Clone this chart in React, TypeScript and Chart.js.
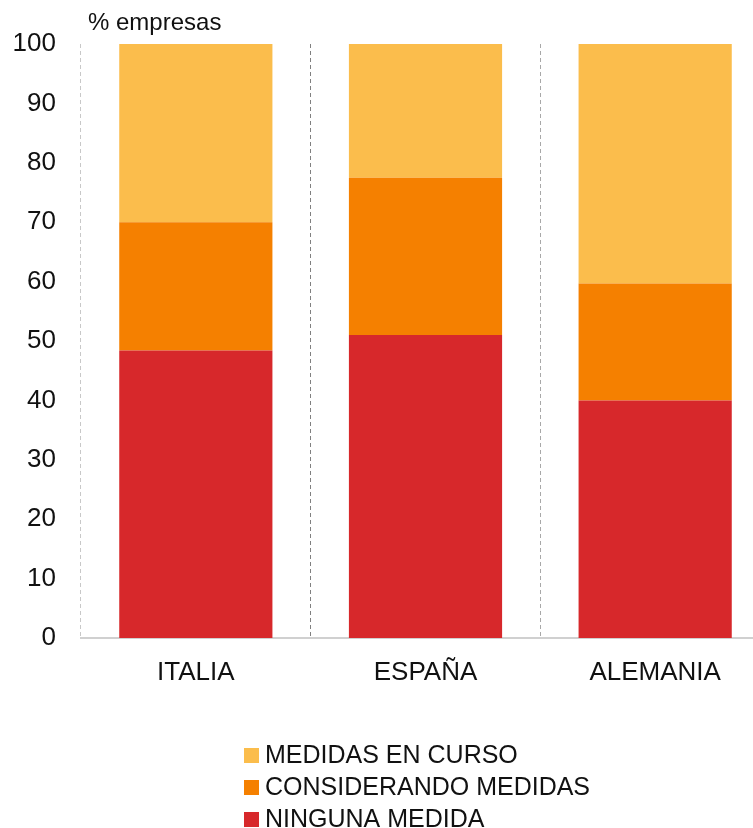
import React, { useEffect, useRef } from "react";
import { Chart, registerables } from "chart.js";

Chart.register(...registerables);

const categories = ["ITALIA", "ESPAÑA", "ALEMANIA"];
const ningunaMedida = [48.4, 51.0, 40.0];
const considerandoMedidas = [21.6, 26.5, 19.7];
const medidasEnCurso = [30.0, 22.5, 40.3];
const yTicks = [0, 10, 20, 30, 40, 50, 60, 70, 80, 90, 100];
const yTitle = "% empresas";

const FONT = '"Liberation Sans", Arial, Helvetica, sans-serif';
const TEXT = "#111111";

const overlay = {
  id: "overlay",
  afterDraw(chart: any) {
    const ctx = chart.ctx;
    ctx.save();
    ctx.fillStyle = TEXT;
    ctx.font = `24px ${FONT}`;
    ctx.textBaseline = "alphabetic";
    ctx.textAlign = "left";
    ctx.fillText(yTitle, chart.chartArea.left + 7, 30);
    ctx.font = `25px ${FONT}`;
    const items = chart.data.datasets.map((d: any) => ({ label: d.label, color: d.backgroundColor })).reverse();
    items.forEach((it: any, k: number) => {
      const cy = 755.5 + k * 32;
      ctx.fillStyle = it.color;
      ctx.fillRect(244, cy - 7.5, 15, 15);
      ctx.fillStyle = TEXT;
      ctx.textBaseline = "middle";
      ctx.fillText(it.label, 265, cy + 1);
    });
    ctx.restore();
  },
};

export default function App() {
  const ref = useRef<HTMLCanvasElement>(null);
  useEffect(() => {
    if (!ref.current) return;
    const chart = new Chart(ref.current, {
      type: "bar",
      data: {
        labels: categories,
        datasets: [
          { label: "NINGUNA MEDIDA", data: ningunaMedida, backgroundColor: "#d7282b" },
          { label: "CONSIDERANDO MEDIDAS", data: considerandoMedidas, backgroundColor: "#f58000" },
          { label: "MEDIDAS EN CURSO", data: medidasEnCurso, backgroundColor: "#fbbd4c" },
        ],
      },
      options: {
        responsive: false,
        animation: false,
        devicePixelRatio: 1,
        layout: { padding: { top: 44, left: 0, right: 0, bottom: 0 } },
        datasets: { bar: { barPercentage: 0.667, categoryPercentage: 1 } },
        plugins: { legend: { display: false }, tooltip: { enabled: false }, title: { display: false } },
        scales: {
          x: {
            stacked: true,
            afterFit: (s: any) => { s.height = 190; },
            grid: {
              offset: true,
              drawTicks: false,
              color: (c: any) => (c.index === 0 ? "#c8c8c8" : c.index === 1 ? "#808080" : "#a8a8a8"),
              lineWidth: 1,
            },
            border: { display: true, color: "#d0d0d0", width: 2, dash: [4, 3] },
            ticks: { color: TEXT, font: { family: FONT, size: 26 }, padding: 19 },
          },
          y: {
            stacked: true,
            min: 0,
            max: 100,
            afterFit: (s: any) => { s.width = 81; },
            afterBuildTicks: (s: any) => { s.ticks = yTicks.map((v) => ({ value: v })); },
            grid: { display: false, drawTicks: false },
            border: { display: false },
            ticks: { color: TEXT, font: { family: FONT, size: 26 }, padding: 25 },
          },
        },
      },
      plugins: [overlay],
    } as any);
    return () => chart.destroy();
  }, []);
  return (
    <div style={{ position: "fixed", left: 0, top: 0, width: 753, height: 828, overflow: "hidden", background: "#fff" }}>
      <canvas ref={ref} width={770} height={828} style={{ display: "block" }} />
    </div>
  );
}
